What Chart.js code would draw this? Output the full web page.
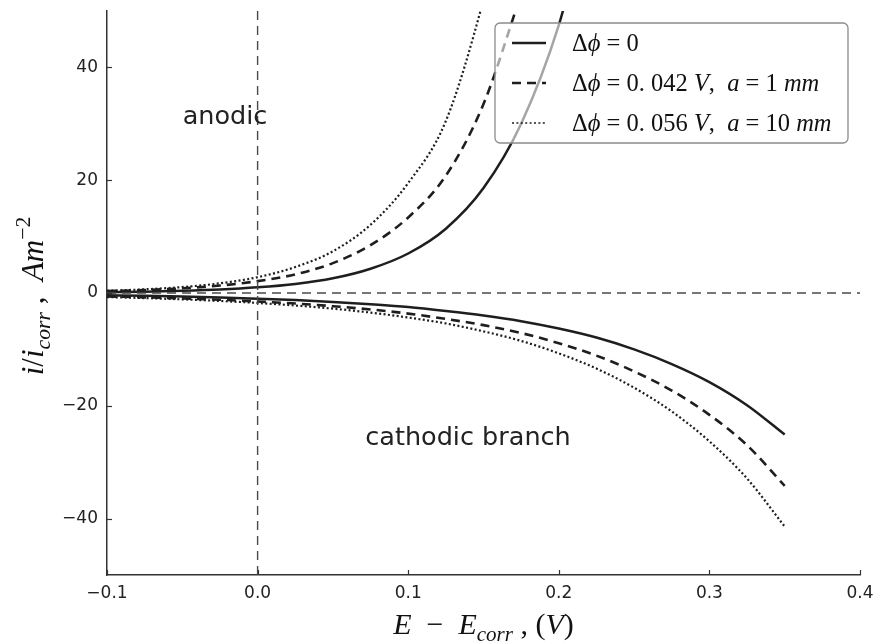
<!DOCTYPE html>
<html>
<head>
<meta charset="utf-8">
<script src="https://cdn.jsdelivr.net/npm/chart.js@4.4.1/dist/chart.umd.min.js"></script>
<style>
  html, body { margin: 0; padding: 0; background: #fff; }
  #wrap { width: 875px; height: 643px; }
</style>
</head>
<body>
<div id="wrap"><canvas id="myChart" width="875" height="643"></canvas></div>
<script>
// values
const xTicks = [-0.1, 0.0, 0.1, 0.2, 0.3, 0.4];
const yTicks = [-40, -20, 0, 20, 40];

// anodic branch (upper curves)
const xAnodicSolid = [-0.1, -0.075, -0.05, -0.025, 0, 0.025, 0.05, 0.075, 0.1, 0.125, 0.15, 0.175, 0.2, 0.2125];
const anodicSolid = [0.14, 0.23, 0.38, 0.61, 1.0, 1.6, 2.6, 4.3, 7.0, 11.4, 18.6, 30.0, 47.5, 60];
const xAnodicDashed = [-0.1, -0.075, -0.05, -0.025, 0, 0.025, 0.05, 0.075, 0.1, 0.125, 0.15, 0.175];
const anodicDashed = [0.33, 0.52, 0.83, 1.32, 2.1, 3.3, 5.3, 8.5, 13.4, 20.8, 33.5, 53];
const xAnodicDotted = [-0.1, -0.075, -0.05, -0.025, 0, 0.025, 0.05, 0.075, 0.1, 0.125, 0.15, 0.1625];
const anodicDotted = [0.40, 0.65, 1.05, 1.72, 2.8, 4.6, 7.4, 12.1, 19.5, 30.5, 52, 66];

// cathodic branch (lower curves)
const xCathodic = [-0.1, -0.075, -0.05, -0.025, 0, 0.025, 0.05, 0.075, 0.1, 0.125, 0.15, 0.175, 0.2, 0.225, 0.25, 0.275, 0.3, 0.325, 0.35];
const cathodicSolid = [-0.40, -0.50, -0.63, -0.79, -1.0, -1.26, -1.58, -2.0, -2.5, -3.2, -4.0, -5.0, -6.3, -7.9, -10.0, -12.6, -15.8, -19.9, -25.1];
const cathodicDashed = [-0.62, -0.77, -0.96, -1.2, -1.5, -1.87, -2.34, -2.92, -3.65, -4.6, -5.7, -7.1, -8.9, -11.1, -13.9, -17.3, -21.6, -27.0, -34.2];
const cathodicDotted = [-0.72, -0.90, -1.13, -1.41, -1.77, -2.22, -2.77, -3.47, -4.35, -5.4, -6.8, -8.5, -10.7, -13.4, -16.8, -21.0, -26.3, -32.9, -41.4];

const legendRows = [
  [['Δ', 'n'], ['ϕ', 'i'], [' = ', 'n'], ['0', 'n']],
  [['Δ', 'n'], ['ϕ', 'i'], [' = ', 'n'], ['0. 042 ', 'n'], ['V', 'i'], [',  ', 'n'], ['a', 'i'], [' = ', 'n'], ['1 ', 'n'], ['mm', 'i']],
  [['Δ', 'n'], ['ϕ', 'i'], [' = ', 'n'], ['0. 056 ', 'n'], ['V', 'i'], [',  ', 'n'], ['a', 'i'], [' = ', 'n'], ['10 ', 'n'], ['mm', 'i']]
];

const ink = '#1e1e1e';
const MATH = '"Liberation Serif", "DejaVu Serif", serif';
const SANS = '"DejaVu Sans", sans-serif';

function pts(xs, ys) {
  return xs.map((x, i) => ({ x: x, y: ys[i] }));
}

function curve(xs, ys, dash, width) {
  return {
    data: pts(xs, ys),
    borderColor: ink,
    borderWidth: width,
    borderDash: dash,
    pointRadius: 0,
    showLine: true,
    cubicInterpolationMode: 'monotone',
    clip: 0
  };
}

function refLine(xs, ys) {
  return {
    data: pts(xs, ys),
    borderColor: '#4a4a4a',
    borderWidth: 1.4,
    borderDash: [9, 6],
    pointRadius: 0,
    showLine: true,
    clip: 0
  };
}

const styles = [
  { dash: [], width: 2.5 },
  { dash: [9, 6], width: 2.6 },
  { dash: [2, 2.4], width: 2.2 }
];

// rich text: segments of [text, 'n'|'i', 'sub'|'sup'|undefined]
function richWidth(ctx, segs, size) {
  let w = 0;
  segs.forEach(s => {
    const sz = s[2] ? size * 0.7 : size;
    ctx.font = (s[1] === 'i' ? 'italic ' : '') + sz + 'px ' + MATH;
    w += ctx.measureText(s[0]).width;
  });
  return w;
}

function drawRich(ctx, segs, x, y, size) {
  let cx = x;
  ctx.textBaseline = 'alphabetic';
  ctx.textAlign = 'left';
  segs.forEach(s => {
    const sz = s[2] ? size * 0.7 : size;
    ctx.font = (s[1] === 'i' ? 'italic ' : '') + sz + 'px ' + MATH;
    let dy = 0;
    if (s[2] === 'sub') dy = size * 0.22;
    if (s[2] === 'sup') dy = -size * 0.42;
    ctx.fillText(s[0], cx, y + dy);
    cx += ctx.measureText(s[0]).width;
  });
}

const extras = {
  id: 'extras',
  afterDatasetsDraw(chart) {
    const ctx = chart.ctx;
    const xs = chart.scales.x, ys = chart.scales.y;
    const area = chart.chartArea;
    ctx.save();

    // inward tick marks
    ctx.strokeStyle = '#333';
    ctx.lineWidth = 1.2;
    xTicks.forEach(v => {
      const p = Math.round(xs.getPixelForValue(v)) + 0.5;
      ctx.beginPath(); ctx.moveTo(p, area.bottom); ctx.lineTo(p, area.bottom - 5); ctx.stroke();
    });
    yTicks.forEach(v => {
      const p = Math.round(ys.getPixelForValue(v)) + 0.5;
      ctx.beginPath(); ctx.moveTo(area.left, p); ctx.lineTo(area.left + 5, p); ctx.stroke();
    });

    // annotations
    ctx.fillStyle = '#222';
    ctx.font = '25.5px ' + SANS;
    ctx.textAlign = 'center';
    ctx.textBaseline = 'middle';
    ctx.fillText('anodic', 225, 117);
    ctx.fillText('cathodic branch', 468, 438);

    // legend
    const bx = 495, by = 23, bw = 353, bh = 120;
    ctx.beginPath();
    ctx.roundRect(bx, by, bw, bh, 5);
    ctx.fillStyle = 'rgba(255,255,255,0.6)';
    ctx.fill();
    ctx.strokeStyle = '#8c8c8c';
    ctx.lineWidth = 1.3;
    ctx.stroke();
    legendRows.forEach((row, i) => {
      const ly = 43 + i * 40;
      ctx.beginPath();
      ctx.setLineDash(styles[i].dash);
      ctx.lineWidth = i === 2 ? 1.6 : styles[i].width;
      ctx.strokeStyle = ink;
      ctx.moveTo(512, ly); ctx.lineTo(546, ly);
      ctx.stroke();
      ctx.setLineDash([]);
      ctx.fillStyle = '#111';
      drawRich(ctx, row, 572, ly + 8, 24.5);
    });

    // axis titles
    ctx.fillStyle = '#111';
    const xt = [['E', 'i'], ['  −  ', 'n'], ['E', 'i'], ['corr', 'i', 'sub'], [' , ', 'n'], ['(', 'n'], ['V', 'i'], [')', 'n']];
    const xw = richWidth(ctx, xt, 30);
    drawRich(ctx, xt, (area.left + area.right) / 2 - xw / 2, 634, 30);

    const yt = [['i', 'i'], ['/', 'n'], ['i', 'i'], ['corr', 'i', 'sub'], [' ,  ', 'n'], ['Am', 'i'], ['−2', 'n', 'sup']];
    const yw = richWidth(ctx, yt, 31);
    ctx.translate(43, 296);
    ctx.rotate(-Math.PI / 2);
    drawRich(ctx, yt, -yw / 2, 0, 31);
    ctx.restore();
  }
};

new Chart(document.getElementById('myChart'), {
  type: 'scatter',
  data: {
    datasets: [
      refLine([-0.1, 0.4], [0, 0]),
      refLine([0, 0], [-50, 50]),
      curve(xAnodicSolid, anodicSolid, styles[0].dash, styles[0].width),
      curve(xAnodicDashed, anodicDashed, styles[1].dash, styles[1].width),
      curve(xAnodicDotted, anodicDotted, styles[2].dash, styles[2].width),
      curve(xCathodic, cathodicSolid, styles[0].dash, styles[0].width),
      curve(xCathodic, cathodicDashed, styles[1].dash, styles[1].width),
      curve(xCathodic, cathodicDotted, styles[2].dash, styles[2].width)
    ]
  },
  options: {
    responsive: false,
    devicePixelRatio: 1,
    animation: false,
    layout: { padding: { top: 11, right: 15, left: 0, bottom: 0 } },
    plugins: { legend: { display: false }, tooltip: { enabled: false } },
    scales: {
      x: {
        type: 'linear',
        min: -0.1,
        max: 0.4,
        afterFit(s) { s.height = 68; s.paddingLeft = 0; s.paddingRight = 0; },
        afterBuildTicks(s) { s.ticks = xTicks.map(v => ({ value: v })); },
        grid: { display: false, drawTicks: false },
        border: { display: true, color: '#333', width: 1.5 },
        ticks: {
          padding: 8,
          color: '#222',
          font: { family: SANS, size: 17 },
          callback: v => v.toFixed(1).replace('-', '−')
        }
      },
      y: {
        type: 'linear',
        min: -50,
        max: 50,
        afterFit(s) { s.width = 107; s.paddingTop = 0; s.paddingBottom = 0; },
        afterBuildTicks(s) { s.ticks = yTicks.map(v => ({ value: v })); },
        grid: { display: false, drawTicks: false },
        border: { display: true, color: '#333', width: 1.5 },
        ticks: {
          padding: 9,
          color: '#222',
          font: { family: SANS, size: 17 },
          callback: v => String(v).replace('-', '−')
        }
      }
    }
  },
  plugins: [extras]
});
</script>
</body>
</html>
